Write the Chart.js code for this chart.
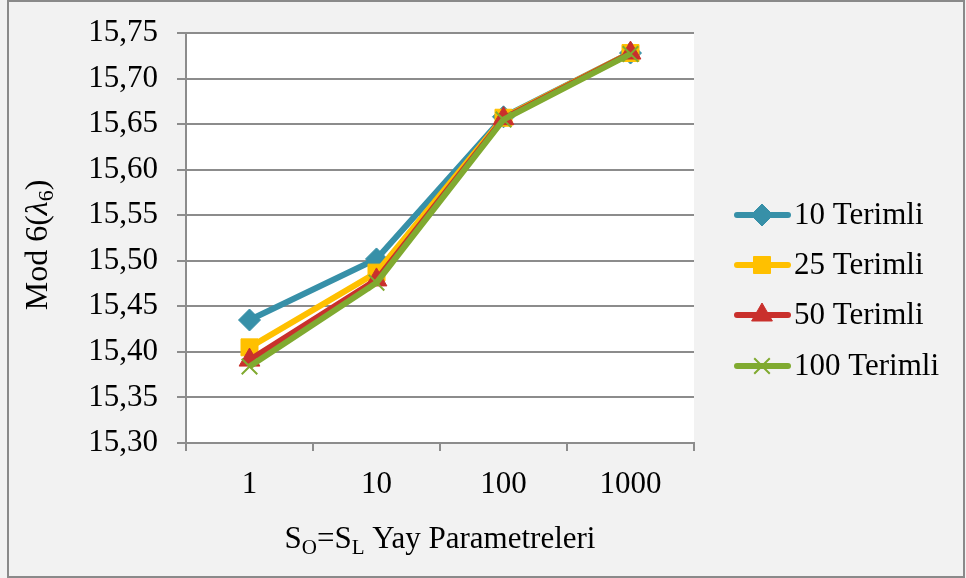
<!DOCTYPE html>
<html>
<head>
<meta charset="utf-8">
<script src="https://cdn.jsdelivr.net/npm/chart.js@4.4.0/dist/chart.umd.min.js"></script>
<style>
  html, body { margin: 0; padding: 0; background: #f2f2f2; }
  #wrap { width: 966px; height: 578px; }
</style>
</head>
<body>
<div id="wrap"><canvas id="modChart" width="966" height="578"></canvas></div>
<script>
// Spring parameter categories (S_O = S_L)
const categories = ['1', '10', '100', '1000'];

// Mode 6 eigenvalue for each number of series terms
const terim10 = [15.435, 15.502, 15.658, 15.728];
const terim25 = [15.405, 15.487, 15.657, 15.728];
const terim50 = [15.391, 15.479, 15.656, 15.728];
const terim100 = [15.384, 15.476, 15.655, 15.727];

const seriesNames = ['10 Terimli', '25 Terimli', '50 Terimli', '100 Terimli'];
const yMin = 15.30, yMax = 15.75, yStep = 0.05;

const FONT = '"Liberation Serif", "Times New Roman", serif';
const FS = 31;
const GRID = '#8c8c8c';

function series(label, data, color, style, radius, bw, order) {
    return {
        label, data, order,
        borderColor: color,
        backgroundColor: color,
        borderWidth: 6,
        tension: 0,
        pointStyle: style,
        pointRadius: radius,
        pointHoverRadius: radius,
        pointBackgroundColor: color,
        pointBorderColor: color,
        pointBorderWidth: bw
    };
}

// Background, white plot area and outer frame
const frame = {
    id: 'frame',
    beforeDraw(chart) {
        const { ctx, chartArea: a } = chart;
        ctx.save();
        ctx.fillStyle = '#f2f2f2';
        ctx.fillRect(0, 0, chart.width, chart.height);
        ctx.fillStyle = '#ffffff';
        ctx.fillRect(a.left, a.top, a.right - a.left, a.bottom - a.top);
        ctx.strokeStyle = '#8a8a8a';
        ctx.lineWidth = 2;
        ctx.strokeRect(8, 1, 956, 576);
        ctx.restore();
    }
};

// Axis titles with subscripts
const titles = {
    id: 'titles',
    afterDraw(chart) {
        const { ctx, chartArea: a } = chart;
        ctx.save();
        ctx.fillStyle = '#000';
        ctx.textBaseline = 'alphabetic';

        // x title: S_O=S_L Yay Parametreleri
        const big = FS + 'px ' + FONT, small = '21px ' + FONT;
        const parts = [
            ['S', big, 0], ['O', small, 6], ['=S', big, 0], ['L', small, 6], [' Yay Parametreleri', big, 0]
        ];
        let w = 0;
        parts.forEach(p => { ctx.font = p[1]; w += ctx.measureText(p[0]).width; });
        let x = (a.left + a.right) / 2 - w / 2;
        parts.forEach(p => {
            ctx.font = p[1];
            ctx.fillText(p[0], x, 548 + p[2]);
            x += ctx.measureText(p[0]).width;
        });

        // y title: Mod 6(λ6)
        const ybig = '32px ' + FONT;
        ctx.translate(47, 245);
        ctx.rotate(-Math.PI / 2);
        const yparts = [
            ['Mod 6(', ybig, 0], ['λ', 'italic 32px ' + FONT, 0], ['6', '22px ' + FONT, 6], [')', ybig, 0]
        ];
        w = 0;
        yparts.forEach(p => { ctx.font = p[1]; w += ctx.measureText(p[0]).width; });
        x = -w / 2;
        yparts.forEach(p => {
            ctx.font = p[1];
            ctx.fillText(p[0], x, p[2]);
            x += ctx.measureText(p[0]).width;
        });
        ctx.restore();
    }
};

// Legend on the right: line segment with marker and label
const sideLegend = {
    id: 'sideLegend',
    afterDraw(chart) {
        const { ctx } = chart;
        const rows = [215, 265, 315, 366];
        ctx.save();
        chart.data.datasets.forEach((ds, i) => {
            const y = rows[i];
            ctx.strokeStyle = ds.borderColor;
            ctx.lineWidth = 6;
            ctx.lineCap = 'round';
            ctx.beginPath();
            ctx.moveTo(737, y);
            ctx.lineTo(788, y);
            ctx.stroke();
            ctx.fillStyle = ds.pointBackgroundColor;
            ctx.strokeStyle = ds.pointBorderColor;
            ctx.lineWidth = ds.pointBorderWidth;
            ctx.lineCap = 'butt';
            Chart.helpers.drawPoint(ctx, {
                pointStyle: ds.pointStyle,
                radius: ds.pointRadius,
                rotation: 0,
                borderWidth: ds.pointBorderWidth
            }, 762, y);
            ctx.fillStyle = '#000';
            ctx.font = FS + 'px ' + FONT;
            ctx.textBaseline = 'middle';
            ctx.fillText(seriesNames[i], 794, y + 1);
        });
        ctx.restore();
    }
};

new Chart(document.getElementById('modChart'), {
    type: 'line',
    data: {
        labels: categories,
        datasets: [
            series(seriesNames[0], terim10, '#3790a8', 'rectRot', 11, 1, 3),
            series(seriesNames[1], terim25, '#ffc000', 'rect', 12, 1, 2),
            series(seriesNames[2], terim50, '#c9302c', 'triangle', 12, 1, 1),
            series(seriesNames[3], terim100, '#80aa30', 'crossRot', 11, 2, 0)
        ]
    },
    options: {
        responsive: false,
        devicePixelRatio: 1,
        animation: false,
        events: [],
        layout: { padding: { top: 33, right: 272, bottom: 0, left: 0 } },
        plugins: {
            legend: { display: false },
            tooltip: { enabled: false }
        },
        scales: {
            x: {
                offset: true,
                grid: {
                    offset: true,
                    drawOnChartArea: false,
                    color: GRID,
                    lineWidth: 2,
                    tickLength: 8
                },
                border: { color: GRID, width: 2 },
                ticks: {
                    color: '#000',
                    font: { family: FONT, size: FS },
                    padding: 15,
                    maxRotation: 0
                },
                afterFit(scale) { scale.height = 135; }
            },
            y: {
                min: yMin,
                max: yMax,
                grid: { color: GRID, lineWidth: 2, tickLength: 9 },
                border: { color: GRID, width: 2 },
                ticks: {
                    stepSize: yStep,
                    color: '#000',
                    font: { family: FONT, size: FS },
                    padding: 19,
                    callback: v => v.toFixed(2).replace('.', ',')
                },
                afterFit(scale) {
                    scale.width = 186;
                    // let the layout padding alone decide the plot top
                    scale.paddingTop = 0;
                    scale.paddingBottom = 0;
                }
            }
        }
    },
    plugins: [frame, titles, sideLegend]
});
</script>
</body>
</html>
